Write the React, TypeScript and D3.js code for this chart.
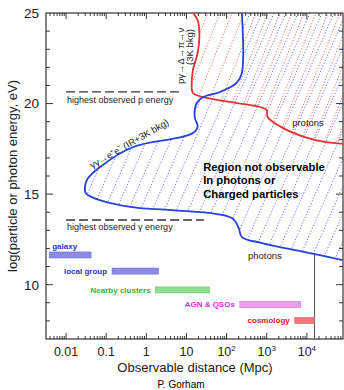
import React from 'react';
import * as d3 from 'd3';

// photon horizon (γγ → e+e-), distance in Mpc vs log10 energy
const photonDist = [240, 240, 178, 68, 26, 18, 16, 19, 14.5, 5.8, 0.47, 0.071, 0.033, 0.03, 0.035, 0.12, 0.69, 4.4, 135, 200, 240, 760, 8900, 78000];
const photonLogE = [25, 21.69, 21.14, 20.64, 20.36, 20.03, 19.26, 18.71, 18.37, 18.1, 17.6, 16.5, 15.78, 15.12, 14.95, 14.51, 14.23, 14.12, 13.68, 13.13, 12.63, 12.3, 11.8, 11.36];

// proton horizon (GZK)
const protonDist = [14.5, 19, 21, 19, 14.5, 13.5, 14.5, 26, 178, 680, 1000, 1050, 2300, 8900, 27500, 83000];
const protonLogE = [25, 24.6, 23.7, 22.8, 21.85, 21.14, 20.58, 20.36, 20.03, 19.81, 19.64, 19.26, 18.7, 18.15, 17.88, 17.77];

const sourceNames = ['galaxy', 'local group', 'Nearby clusters', 'AGN & QSOs', 'cosmology'];
const sourceMin = [0.0038, 0.14, 1.7, 214, 5000];
const sourceMax = [0.042, 2.0, 38, 7000, 15500];
const sourceLogE = [11.64, 10.75, 9.71, 8.9, 8.02];

const xTickValues = [0.01, 0.1, 1, 10, 100, 1000, 10000];
const xTickBase = ['0.01', '0.1', '1', '10', '10', '10', '10'];
const xTickExp = ['', '', '', '', '2', '3', '4'];
const yTickValues = [10, 15, 20, 25];

const pMaxLogE = 20.64;
const gammaMaxLogE = 13.57;
const hubbleDist = 15500;

const barFill = ['#8b8be6', '#8b8be6', '#8ee08e', '#f19cf1', '#ee7b7b'];
const barStroke = ['#6a6ad0', '#6a6ad0', '#6cc46c', '#cf6fcf', '#d05858'];
const labelColor = ['#3030c8', '#3030c8', '#2fb52f', '#ea2cea', '#d82020'];

const L = 46, R = 343, T = 13, B = 339;
const font = 'Liberation Sans, Arial, sans-serif';

const App = () => {
  const x = d3.scaleLog().domain([10 ** -2.5, 10 ** 4.9]).range([L, R]);
  const y = d3.scaleLinear().domain([7, 25]).range([B, T]);

  const line = d3.line<[number, number]>()
    .x(d => x(d[0]))
    .y(d => y(d[1]))
    .curve(d3.curveCatmullRom.alpha(0.5));

  const photonPts = photonDist.map((d, i) => [d, photonLogE[i]] as [number, number]);
  const protonPts = protonDist.map((d, i) => [d, protonLogE[i]] as [number, number]);
  const photonPath = line(photonPts) as string;
  const protonPath = line(protonPts) as string;
  const corner = `L${R},${T}Z`;

  const hatch = (offset: number, spacing: number, slope: number) => {
    const h = B - T;
    const dx = h / slope;
    let s = '';
    for (let x0 = L - dx + offset; x0 < R; x0 += spacing) s += `M${x0},${B}L${x0 + dx},${T}`;
    return s;
  };

  // minor ticks
  const xMinor: number[] = [];
  for (let e = -3; e <= 4; e++) for (let m = 1; m <= 9; m++) {
    const v = m * 10 ** e;
    if (v > x.domain()[0] && v < x.domain()[1]) xMinor.push(v);
  }
  const yMinor = d3.range(8, 25);

  return (
    <svg width={344} height={390} style={{ position: 'absolute', left: 0, top: 0, background: '#fff' }} fontFamily={font}>
      <defs>
        <clipPath id="photonClip"><path d={photonPath + corner} /></clipPath>
        <clipPath id="protonClip"><path d={protonPath + corner} /></clipPath>
      </defs>

      {/* hatched regions */}
      <path d={hatch(0, 12, 2.3)} stroke="#5c5ce0" strokeWidth={0.9} strokeDasharray="1.2 1.8" fill="none" clipPath="url(#photonClip)" />
      <path d={hatch(6, 12, 2.5)} stroke="#e25c5c" strokeWidth={0.9} strokeDasharray="1.2 1.8" fill="none" clipPath="url(#protonClip)" />

      {/* frame */}
      <rect x={L} y={T} width={R - L} height={B - T} fill="none" stroke="#222" strokeWidth={1.1} />

      {/* x ticks */}
      {xMinor.map((v, i) => {
        const major = Math.abs(Math.log10(v) - Math.round(Math.log10(v))) < 1e-6;
        const len = major ? 6 : 3;
        return (
          <g key={i} stroke="#222" strokeWidth={0.9}>
            <line x1={x(v)} x2={x(v)} y1={B} y2={B - len} />
            <line x1={x(v)} x2={x(v)} y1={T} y2={T + len} />
          </g>
        );
      })}
      {xTickValues.map((v, i) => (
        <text key={i} x={x(v)} y={356} textAnchor="middle" fontSize={12.5} fill="#222">
          <tspan>{xTickBase[i]}</tspan>
          {xTickExp[i] && <tspan dy={-5} fontSize={8}>{xTickExp[i]}</tspan>}
        </text>
      ))}

      {/* y ticks */}
      {yMinor.map(v => {
        const len = v % 5 === 0 ? 7 : 4;
        return (
          <g key={v} stroke="#222" strokeWidth={0.9}>
            <line x1={L} x2={L + len} y1={y(v)} y2={y(v)} />
            <line x1={R} x2={R - len} y1={y(v)} y2={y(v)} />
          </g>
        );
      })}
      {yTickValues.map(v => (
        <text key={v} x={39} y={y(v)} dy="0.36em" textAnchor="end" fontSize={13.5} fill="#222">{v}</text>
      ))}

      {/* axis titles */}
      <text transform={`translate(17,${(T + B) / 2}) rotate(-90)`} textAnchor="middle" fontSize={13} fill="#222">
        log(particle or photon energy, eV)
      </text>
      <text x={195} y={372} textAnchor="middle" fontSize={13} fill="#222">Observable distance (Mpc)</text>
      <text x={181} y={388} textAnchor="middle" fontSize={10} fill="#000">P. Gorham</text>

      {/* highest observed energies */}
      <line x1={x(0.01)} x2={x(7)} y1={y(pMaxLogE)} y2={y(pMaxLogE)} stroke="#333" strokeWidth={1.3} strokeDasharray="9 4" />
      <text x={x(0.01) + 1} y={y(pMaxLogE) + 11} fontSize={9} fill="#222">highest observed p energy</text>
      <line x1={x(0.01)} x2={x(27)} y1={y(gammaMaxLogE)} y2={y(gammaMaxLogE)} stroke="#333" strokeWidth={1.3} strokeDasharray="9 4" />
      <text x={x(0.01) + 1} y={y(gammaMaxLogE) + 10} fontSize={9} fill="#222">highest observed γ energy</text>

      {/* horizon curves */}
      <path d={protonPath} fill="none" stroke="#e83232" strokeWidth={1.8} />
      <path d={photonPath} fill="none" stroke="#2443e0" strokeWidth={1.8} />

      {/* hubble distance */}
      <line x1={x(hubbleDist)} x2={x(hubbleDist)} y1={y(11.68)} y2={B} stroke="#555" strokeWidth={1} />

      {/* curve labels */}
      <text transform={`translate(${x(0.045)},${y(16.4)}) rotate(-30)`} fontSize={9.5} fill="#222">γγ→e⁺e⁻ (IR+3K bkg)</text>
      <text transform={`translate(${x(8.7)},${y(21.08)}) rotate(-90)`} fontSize={9.5} fill="#222">pγ→Δ→π→ν</text>
      <text transform={`translate(${x(14.5)},${y(23.12)}) rotate(-90)`} textAnchor="middle" fontSize={9.5} fill="#222">(3K bkg)</text>
      <text x={x(4300)} y={y(18.76)} fontSize={9.5} fill="#222">protons</text>
      <text x={x(340)} y={y(11.42)} fontSize={9.5} fill="#222">photons</text>

      <text x={x(26)} y={y(16.28)} fontSize={11.3} fontWeight="bold" fill="#000">
        <tspan x={x(26)}>Region not observable</tspan>
        <tspan x={x(26)} dy={13.5}>In photons or</tspan>
        <tspan x={x(26)} dy={13.5}>Charged particles</tspan>
      </text>

      {/* source distance bars */}
      {sourceNames.map((name, i) => {
        const yc = y(sourceLogE[i]);
        return (
          <g key={name}>
            <rect x={x(sourceMin[i])} y={yc - 3} width={x(sourceMax[i]) - x(sourceMin[i])} height={6}
              fill={barFill[i]} stroke={barStroke[i]} strokeWidth={0.6} />
            {i === 0 ? (
              <text x={x(sourceMin[i]) + 3} y={yc - 6} fontSize={8} fontWeight="bold" fill={labelColor[i]}>{name}</text>
            ) : (
              <text x={x(sourceMin[i]) - 5} y={yc} dy="0.35em" textAnchor="end" fontSize={8} fontWeight="bold" fill={labelColor[i]}>{name}</text>
            )}
          </g>
        );
      })}
    </svg>
  );
};

export default App;
